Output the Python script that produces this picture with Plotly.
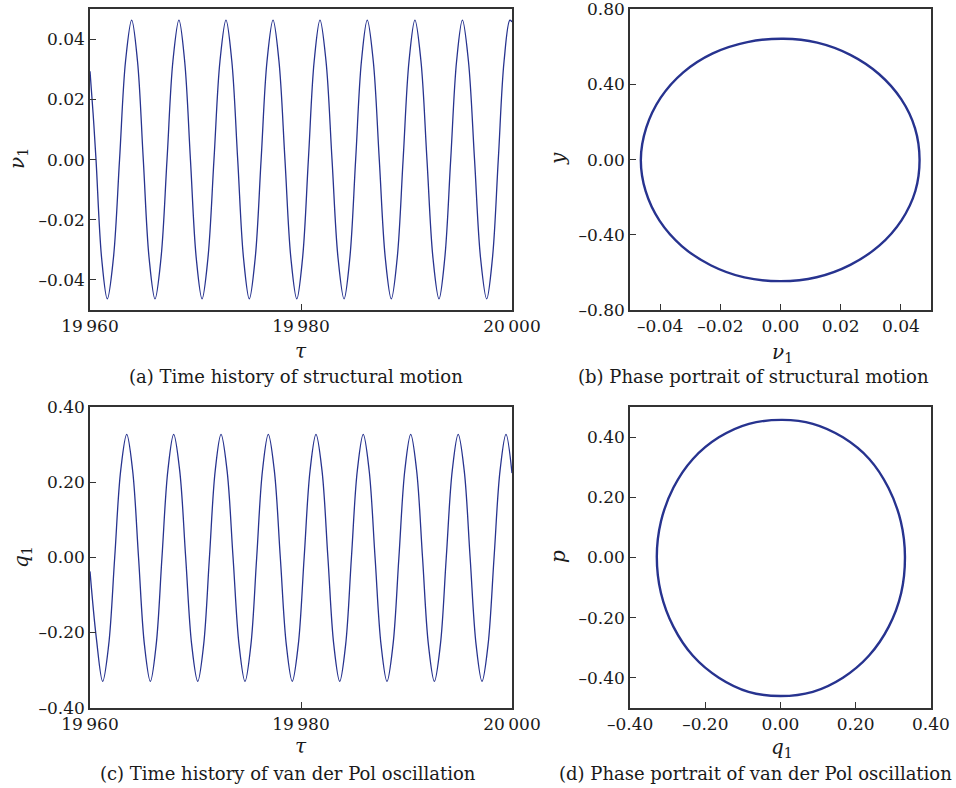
import plotly.graph_objects as go

# ---------------- data ----------------
TAU0 = 19960
# (a) time history of structural motion: nu1 vs tau (offsets from 19 960)
dtau_a = [0.00, 0.29, 0.57, 1.10, 1.64, 2.22, 2.80, 3.37, 3.95, 4.50,
          5.05, 5.60, 6.16, 6.73, 7.30, 7.86, 8.43, 8.97, 9.52, 10.07,
          10.62, 11.18, 11.75, 12.32, 12.89, 13.44, 14.00, 14.55, 15.10, 15.66,
          16.22, 16.78, 17.35, 17.91, 18.48, 19.04, 19.60, 20.15, 20.70, 21.25,
          21.80, 22.37, 22.94, 23.51, 24.08, 24.63, 25.18, 25.73, 26.28, 26.85,
          27.42, 27.99, 28.56, 29.12, 29.68, 30.24, 30.80, 31.37, 31.94, 32.51,
          33.08, 33.63, 34.19, 34.75, 35.30, 35.87, 36.45, 37.02, 37.60, 38.15,
          38.70, 39.25, 39.80, 40.00]
nu1_a = [0.0294, 0.0155, 0.0, -0.0327, -0.0463, -0.0327, 0.0, 0.0328, 0.0464, 0.0328,
         0.0, -0.0327, -0.0463, -0.0327, 0.0, 0.0328, 0.0464, 0.0328, 0.0, -0.0327,
         -0.0463, -0.0327, 0.0, 0.0328, 0.0464, 0.0328, 0.0, -0.0327, -0.0463, -0.0327,
         0.0, 0.0328, 0.0464, 0.0328, 0.0, -0.0327, -0.0463, -0.0327, 0.0, 0.0328,
         0.0464, 0.0328, 0.0, -0.0327, -0.0463, -0.0327, 0.0, 0.0328, 0.0464, 0.0328,
         0.0, -0.0327, -0.0463, -0.0327, 0.0, 0.0328, 0.0464, 0.0328, 0.0, -0.0327,
         -0.0463, -0.0327, 0.0, 0.0328, 0.0464, 0.0328, 0.0, -0.0327, -0.0463, -0.0327,
         0.0, 0.0328, 0.0464, 0.0458]

# (b) phase portrait of structural motion: y vs nu1
nu1_b = [0.0462, 0.0447, 0.0401, 0.0327, 0.0232, 0.0122, 0.0010, -0.0110, -0.0225, -0.0323,
         -0.0398, -0.0446, -0.0464, -0.0448, -0.0402, -0.0328, -0.0232, -0.0120, 0.0000, 0.0120,
         0.0232, 0.0328, 0.0402, 0.0448, 0.0462]
y_b = [0.000, 0.167, 0.322, 0.456, 0.558, 0.623, 0.644, 0.626, 0.566, 0.465,
       0.330, 0.170, 0.000, -0.168, -0.325, -0.460, -0.562, -0.627, -0.647, -0.626,
       -0.560, -0.458, -0.323, -0.167, 0.000]

# (c) time history of van der Pol oscillation: q1 vs tau (offsets from 19 960)
dtau_c = [0.00, 0.60, 1.20, 1.77, 2.34, 2.91, 3.48, 4.04, 4.60, 5.16,
          5.72, 6.27, 6.82, 7.38, 7.93, 8.50, 9.07, 9.64, 10.21, 10.77,
          11.32, 11.87, 12.42, 12.99, 13.56, 14.13, 14.69, 15.25, 15.80, 16.35,
          16.90, 17.47, 18.04, 18.61, 19.17, 19.74, 20.30, 20.86, 21.42, 21.99,
          22.55, 23.11, 23.67, 24.23, 24.78, 25.34, 25.90, 26.46, 27.02, 27.59,
          28.15, 28.72, 29.28, 29.84, 30.40, 30.96, 31.52, 32.08, 32.64, 33.21,
          33.77, 34.34, 34.90, 35.47, 36.03, 36.60, 37.16, 37.73, 38.30, 38.87,
          39.43, 40.00]
q1_c = [-0.037, -0.215, -0.330, -0.233, 0.0, 0.232, 0.328, 0.232, 0.0, -0.233,
        -0.330, -0.233, 0.0, 0.232, 0.328, 0.232, 0.0, -0.233, -0.330, -0.233,
        0.0, 0.232, 0.328, 0.232, 0.0, -0.233, -0.330, -0.233, 0.0, 0.232,
        0.328, 0.232, 0.0, -0.233, -0.330, -0.233, 0.0, 0.232, 0.328, 0.232,
        0.0, -0.233, -0.330, -0.233, 0.0, 0.232, 0.328, 0.232, 0.0, -0.233,
        -0.330, -0.233, 0.0, 0.232, 0.328, 0.232, 0.0, -0.233, -0.330, -0.233,
        0.0, 0.232, 0.328, 0.232, 0.0, -0.233, -0.330, -0.233, 0.0, 0.232,
        0.328, 0.225]

# (d) phase portrait of van der Pol oscillation: p vs q1
q1_d = [0.331, 0.320, 0.287, 0.236, 0.166, 0.086, 0.005, -0.084, -0.164, -0.233,
        -0.285, -0.318, -0.329, -0.318, -0.285, -0.233, -0.164, -0.085, 0.000, 0.086,
        0.166, 0.235, 0.288, 0.321, 0.331]
p_d = [0.003, 0.120, 0.232, 0.328, 0.400, 0.445, 0.458, 0.445, 0.400, 0.328,
       0.232, 0.120, 0.003, -0.118, -0.230, -0.327, -0.400, -0.447, -0.461, -0.447,
       -0.400, -0.327, -0.230, -0.118, 0.003]

# tick labels
tau_ticks = [19960, 19980, 20000]
tau_text = ["19\u2009960", "19\u2009980", "20\u2009000"]
nu_ticks = [-0.04, -0.02, 0.0, 0.02, 0.04]
nu_text = ["\u20130.04", "\u20130.02", "0.00", "0.02", "0.04"]
yb_ticks = [-0.8, -0.4, 0.0, 0.4, 0.8]
yb_text = ["\u20130.80", "\u20130.40", "0.00", "0.40", "0.80"]
q_ticks = [-0.4, -0.2, 0.0, 0.2, 0.4]
q_text = ["\u20130.40", "\u20130.20", "0.00", "0.20", "0.40"]
p_ticks = [-0.4, -0.2, 0.0, 0.2, 0.4]
p_text = ["\u20130.40", "\u20130.20", "0.00", "0.20", "0.40"]

captions = ["(a) Time history of structural motion",
            "(b) Phase portrait of structural motion",
            "(c) Time history of van der Pol oscillation",
            "(d) Phase portrait of van der Pol oscillation"]

tau_a = [TAU0 + t for t in dtau_a]
tau_c = [TAU0 + t for t in dtau_c]

# ---------------- figure ----------------
W, H = 956, 788
FONT = "DejaVu Serif"
LINE = "#27338f"
AX = "#333333"
TXT = "#1a1a1a"


def px(x):
    return x / W


def py(y):
    return 1 - y / H


fig = go.Figure()
fig.add_trace(go.Scatter(x=tau_a, y=nu1_a, mode="lines", xaxis="x", yaxis="y",
                         line=dict(color=LINE, width=1.3, shape="spline", smoothing=1.0)))
fig.add_trace(go.Scatter(x=nu1_b, y=y_b, mode="lines", xaxis="x2", yaxis="y2",
                         line=dict(color=LINE, width=2.4, shape="spline", smoothing=1.0)))
fig.add_trace(go.Scatter(x=tau_c, y=q1_c, mode="lines", xaxis="x3", yaxis="y3",
                         line=dict(color=LINE, width=1.3, shape="spline", smoothing=1.0)))
fig.add_trace(go.Scatter(x=q1_d, y=p_d, mode="lines", xaxis="x4", yaxis="y4",
                         line=dict(color=LINE, width=2.4, shape="spline", smoothing=1.0)))

common = dict(showline=True, mirror=True, linecolor=AX, linewidth=1.5, ticks="inside",
              ticklen=6, tickwidth=1.2, tickcolor=AX, showgrid=False, zeroline=False,
              automargin=False, tickmode="array", ticklabeloverflow="allow",
              tickfont=dict(family=FONT, size=17, color=TXT))

left_dom = [px(90), px(512)]
right_dom = [px(630), px(931)]
top_dom = [py(310), py(9.3)]
bot_dom = [py(707.7), py(407.3)]

fig.update_layout(
    width=W, height=H, margin=dict(l=0, r=0, t=0, b=0, autoexpand=False),
    paper_bgcolor="white", plot_bgcolor="white", showlegend=False,
    font=dict(family=FONT, size=17, color=TXT),
    xaxis=dict(domain=left_dom, anchor="y", range=[19959.999, 20000.001], tickvals=tau_ticks, ticktext=tau_text, **common),
    yaxis=dict(domain=top_dom, anchor="x", range=[-0.05, 0.05], tickvals=nu_ticks, ticktext=nu_text, **common),
    xaxis2=dict(domain=right_dom, anchor="y2", range=[-0.05, 0.05], tickvals=nu_ticks, ticktext=nu_text, **common),
    yaxis2=dict(domain=top_dom, anchor="x2", range=[-0.8005, 0.8005], tickvals=yb_ticks, ticktext=yb_text, **common),
    xaxis3=dict(domain=left_dom, anchor="y3", range=[19959.999, 20000.001], tickvals=tau_ticks, ticktext=tau_text, **common),
    yaxis3=dict(domain=bot_dom, anchor="x3", range=[-0.4003, 0.4003], tickvals=q_ticks, ticktext=q_text, **common),
    xaxis4=dict(domain=right_dom, anchor="y4", range=[-0.4003, 0.4003], tickvals=q_ticks, ticktext=q_text, **common),
    yaxis4=dict(domain=bot_dom, anchor="x4", range=[-0.5, 0.5], tickvals=p_ticks, ticktext=p_text, **common),
)

ann = []


def add(text, x, y, angle=0, size=18):
    ann.append(dict(text=text, x=px(x), y=py(y), xref="paper", yref="paper",
                    xanchor="center", yanchor="middle", showarrow=False, textangle=angle,
                    font=dict(family=FONT, size=size, color=TXT)))


# axis titles
add("<i>\u03bd</i><sub>1</sub>", 18, 159, -90, 20)
add("<i>\u03c4</i>", 301, 351, 0, 20)
add("<i>y</i>", 558, 159, -90, 20)
add("<i>\u03bd</i><sub>1</sub>", 782, 353, 0, 20)
add("<i>q</i><sub>1</sub>", 22, 557, -90, 20)
add("<i>\u03c4</i>", 301, 746, 0, 20)
add("<i>p</i>", 558, 557, -90, 20)
add("<i>q</i><sub>1</sub>", 782, 748, 0, 20)
# captions
add(captions[0], 296, 376)
add(captions[1], 753, 376)
add(captions[2], 288, 773)
add(captions[3], 755, 773)

fig.update_layout(annotations=ann)

fig.write_html("out.html")
